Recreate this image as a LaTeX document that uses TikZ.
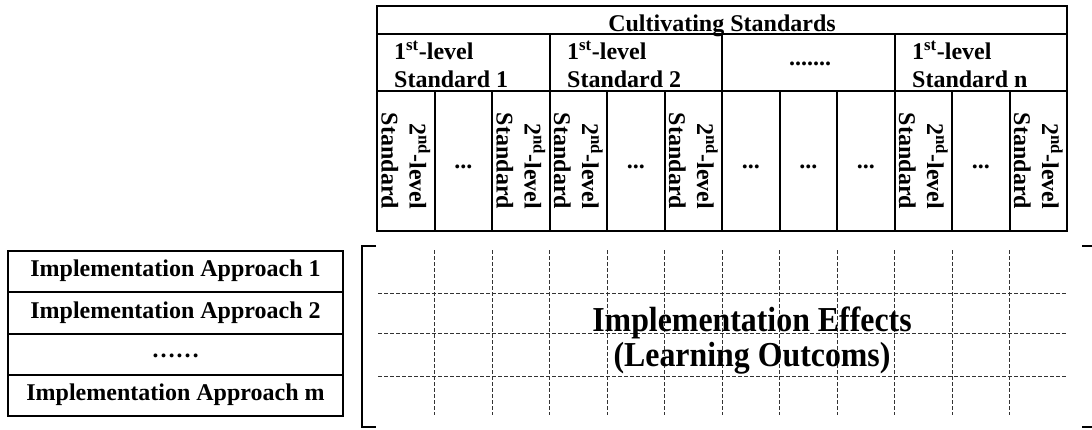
\documentclass[tikz,border=0pt]{standalone}
\usepackage{fontspec}
\setmainfont{Liberation Serif}
\usetikzlibrary{positioning}
\newcommand{\txtfont}{\fontsize{24}{28}\selectfont\bfseries}
\newcommand{\bigfont}{\fontsize{35}{35}\selectfont\bfseries}

\begin{document}
\begin{tikzpicture}[x=1pt,y=-1pt,
    frame/.style={line width=2pt},
    griddash/.style={dash pattern=on 4pt off 2pt,line width=0.8pt,color=black!80},
    lbl/.style={font=\txtfont,inner sep=0pt},
    sublbl/.style={font=\txtfont,inner sep=0pt,rotate=-90,align=right}]
    \useasboundingbox (0,0) rectangle (1092,429);
    % cultivating standards
    \draw[frame] (377,6) rectangle (1067,231);
    \draw[frame] (377,34) -- (1067,34);
    \draw[frame] (377,91) -- (1067,91);
    \foreach \i in {3,6,9}
    \draw[frame] (377+57.5*\i,34) -- (377+57.5*\i,91);
    \foreach \i in {1,...,11}
    \draw[frame] (377+57.5*\i,91) -- (377+57.5*\i,231);
    \node[lbl,anchor=base,at={(722,31)}] (title) {Cultivating Standards};
    \node[lbl,anchor=north west,align=left,at={(394,41)}] (std1) {1\textsuperscript{st}-level\\Standard 1};
    \node[lbl,anchor=north west,align=left,at={(567,41)}] (std2) {1\textsuperscript{st}-level\\Standard 2};
    \node[lbl,at={(810,64)}] (stddots) {.......};
    \node[lbl,anchor=north west,align=left,at={(912,41)}] (stdn) {1\textsuperscript{st}-level\\Standard n};
    \foreach \i in {1,3,4,6,10,12}
    \node[sublbl,at={(348.25+57.5*\i,161)}] (sub\i) {2\textsuperscript{nd}-level\\Standard};
    \foreach \i in {2,5,7,8,9,11}
    \node[lbl,at={(348.25+57.5*\i,167)}] (sub\i) {...};
    % implementation approaches
    \draw[frame] (8,251) rectangle (343,416);
    \foreach \i in {1,2,3}
    \draw[frame] (8,251+41.25*\i) -- (343,251+41.25*\i);
    \node[lbl,at={(175.5,271)}] (app1) {Implementation Approach 1};
    \node[lbl,at={(175.5,312.5)}] (app2) {Implementation Approach 2};
    \node[lbl,at={(175.5,356)}] (appdots) {……};
    \node[lbl,at={(175.5,395)}] (appm) {Implementation Approach m};
    % effects matrix
    \draw[frame] (376,246) -- (362,246) -- (362,427) -- (376,427);
    \draw[frame] (1082,246) -- (1096,246) -- (1096,427) -- (1082,427);
    \foreach \i in {1,...,11}
    \draw[griddash] (377+57.5*\i,250) -- (377+57.5*\i,415);
    \foreach \y in {293,333,376}
    \draw[griddash] (378,\y) -- (1066,\y);
    \node[font=\bigfont,align=center,inner sep=0pt,xscale=0.91,at={(752,341)}] (effects) {Implementation Effects\\(Learning Outcoms)};
\end{tikzpicture}
\end{document}
